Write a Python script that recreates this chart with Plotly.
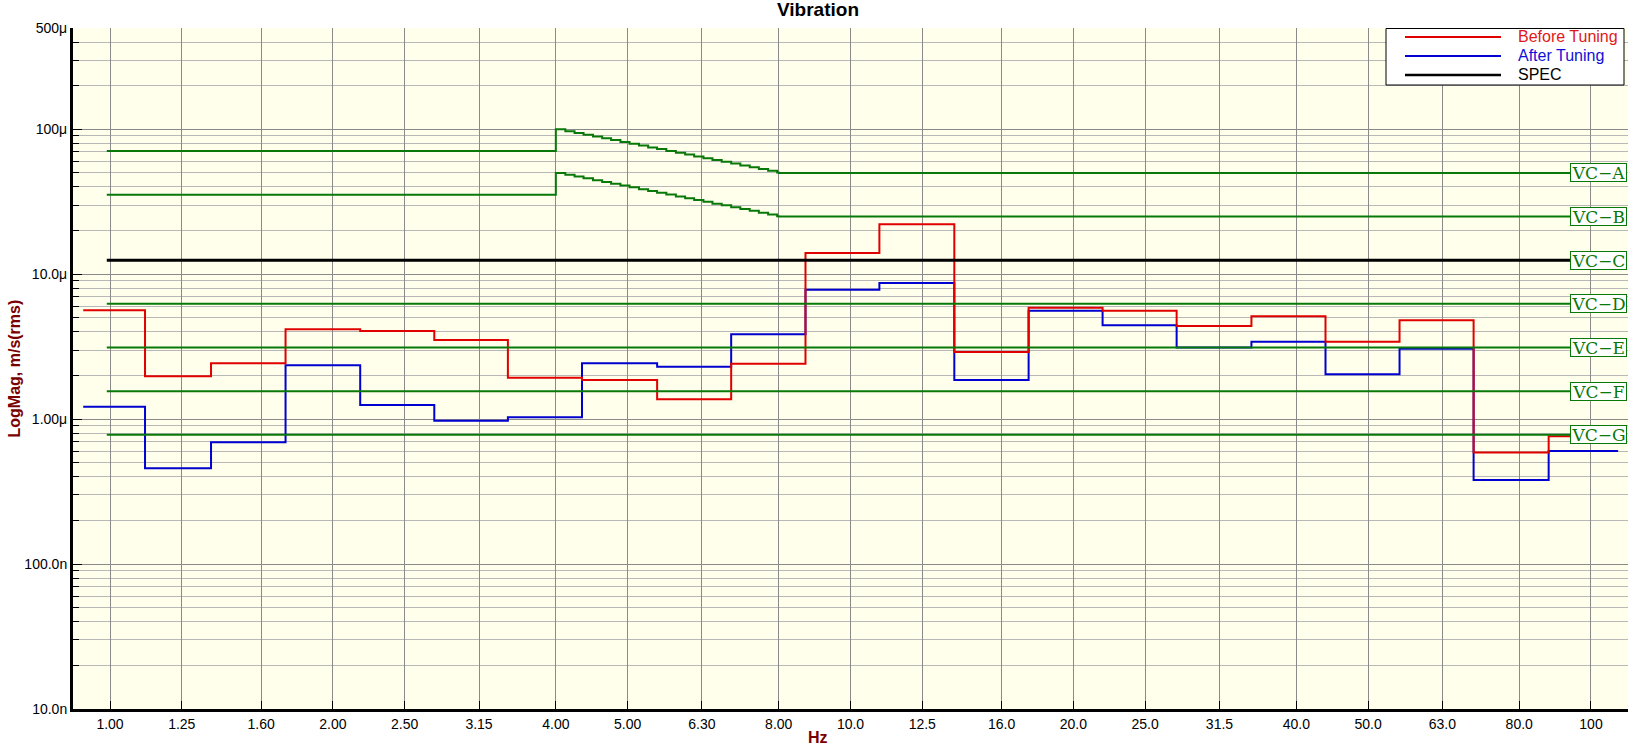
import math
import plotly.graph_objects as go

# ---------------- data ----------------
TICK_HZ = [1, 1.25, 1.6, 2, 2.5, 3.15, 4, 5, 6.3, 8, 10, 12.5, 16, 20, 25, 31.5, 40, 50, 63, 80, 100]
TICK_TEXT = ["1.00", "1.25", "1.60", "2.00", "2.50", "3.15", "4.00", "5.00", "6.30", "8.00",
             "10.0", "12.5", "16.0", "20.0", "25.0", "31.5", "40.0", "50.0", "63.0", "80.0", "100"]

Y_TICK_UM = [0.01, 0.1, 1, 10, 100, 500]
Y_TICK_TEXT = ["10.0n", "100.0n", "1.00\u03bc", "10.0\u03bc", "100\u03bc", "500\u03bc"]

# band edges (Hz) of the step traces
BAND_EDGES_HZ = [0.920, 1.115, 1.369, 1.726, 2.177, 2.741, 3.446, 4.339, 5.481, 6.900, 8.694,
                 10.94, 13.81, 17.40, 21.90, 27.57, 34.79, 43.80, 55.14, 69.42, 87.67, 108.8]
# velocity per band, micro m/s (rms)
BEFORE_UM = [5.65, 1.98, 2.43, 4.18, 4.06, 3.52, 1.93, 1.86, 1.37, 2.41, 14.0,
             22.1, 2.91, 5.86, 5.59, 4.40, 5.13, 3.42, 4.82, 0.589, 0.763]
AFTER_UM = [1.22, 0.459, 0.694, 2.35, 1.25, 0.973, 1.03, 2.43, 2.30, 3.86, 7.80,
            8.71, 1.86, 5.59, 4.45, 3.12, 3.42, 2.04, 3.06, 0.381, 0.604]

# VC criterion curves
VC_START_HZ = 0.99
VC_END_HZ = 106.0
VC_STAIR_HZ = [4.00, 4.12, 4.24, 4.36, 4.49, 4.62, 4.75, 4.89, 5.03, 5.18, 5.33, 5.48, 5.64,
               5.81, 5.98, 6.15, 6.33, 6.51, 6.70, 6.90, 7.10, 7.31, 7.52, 7.74, 7.96]
VC_A_STAIR_UM = [100.0, 97.1, 94.3, 91.7, 89.1, 86.6, 84.2, 81.8, 79.5, 77.2, 75.0, 73.0, 70.9,
                 68.8, 66.9, 65.0, 63.2, 61.4, 59.7, 58.0, 56.3, 54.7, 53.2, 51.7, 50.3]
VC_B_STAIR_UM = [50.0, 48.5, 47.2, 45.9, 44.5, 43.3, 42.1, 40.9, 39.8, 38.6, 37.5, 36.5, 35.5,
                 34.4, 33.4, 32.5, 31.6, 30.7, 29.9, 29.0, 28.2, 27.4, 26.6, 25.8, 25.1]
VC_A_LOW_UM, VC_A_HIGH_UM = 70.7, 50.0
VC_B_LOW_UM, VC_B_HIGH_UM = 35.4, 25.0
VC_FLAT_NAMES = ["VC\u2212D", "VC\u2212E", "VC\u2212F", "VC\u2212G"]
VC_FLAT_UM = [6.25, 3.12, 1.56, 0.78]
SPEC_NAME = "VC\u2212C"
SPEC_UM = 12.5

RED = "#E00000"
BLUE = "#0000D0"
GREEN = "#087808"
BLACK = "#000000"
DARKRED = "#7A0000"
FONT = "Liberation Sans"

fig = go.Figure()

def step(edges, vals):
    return list(edges), list(vals) + [vals[-1]]

# data traces (blue under red)
x, y = step(BAND_EDGES_HZ, AFTER_UM)
fig.add_trace(go.Scatter(x=x, y=y, mode="lines", line=dict(color=BLUE, width=2, shape="hv"),
                         name="After Tuning", showlegend=False))
x, y = step(BAND_EDGES_HZ, BEFORE_UM)
fig.add_trace(go.Scatter(x=x, y=y, mode="lines", line=dict(color=RED, width=2, shape="hv"),
                         name="Before Tuning", showlegend=False))

# VC-A and VC-B
for low, stair, high in [(VC_A_LOW_UM, VC_A_STAIR_UM, VC_A_HIGH_UM),
                         (VC_B_LOW_UM, VC_B_STAIR_UM, VC_B_HIGH_UM)]:
    xs = [VC_START_HZ] + VC_STAIR_HZ + [8.0, VC_END_HZ]
    ys = [low] + stair + [high, high]
    fig.add_trace(go.Scatter(x=xs, y=ys, mode="lines", line=dict(color=GREEN, width=2, shape="hv"),
                             showlegend=False))
for v in VC_FLAT_UM:
    fig.add_trace(go.Scatter(x=[VC_START_HZ, VC_END_HZ], y=[v, v], mode="lines",
                             line=dict(color=GREEN, width=2), showlegend=False))
fig.add_trace(go.Scatter(x=[VC_START_HZ, VC_END_HZ], y=[SPEC_UM, SPEC_UM], mode="lines",
                         line=dict(color=BLACK, width=3), name="SPEC", showlegend=False))

# custom legend / label geometry helpers (pixel -> paper)
PL, PR, PT, PB = 73, 1628, 28, 709
def px(xp):
    return (xp - PL) / (PR - PL)
def py(yp):
    return (PB - yp) / (PB - PT)

# VC labels
label_names = ["VC\u2212A", "VC\u2212B", SPEC_NAME] + VC_FLAT_NAMES
label_vals = [VC_A_HIGH_UM, VC_B_HIGH_UM, SPEC_UM] + VC_FLAT_UM
for nm, v in zip(label_names, label_vals):
    fig.add_annotation(x=px(1598.5), xref="paper", y=math.log10(v), yref="y", text=nm,
                       showarrow=False, font=dict(family="DejaVu Serif", size=17, color=GREEN),
                       bgcolor="white", bordercolor=GREEN, borderwidth=1, borderpad=0,
                       width=55, height=17, xanchor="center", yanchor="middle")

fig.add_shape(type="rect", xref="paper", yref="paper", x0=px(1386), x1=px(1624), y0=py(85), y1=py(28.5),
              line=dict(color="black", width=1), fillcolor="white", layer="above")
legend_items = [("Before Tuning", RED, "#E01818", 2), ("After Tuning", BLUE, "#1010D8", 2),
                ("SPEC", BLACK, "#000000", 2.5)]
for i, (nm, col, tcol, w) in enumerate(legend_items):
    yy = 37 + 19 * i
    fig.add_shape(type="line", xref="paper", yref="paper", x0=px(1405), x1=px(1501),
                  y0=py(yy), y1=py(yy), line=dict(color=col, width=w), layer="above")
    fig.add_annotation(x=px(1516), y=py(yy), xref="paper", yref="paper", text=nm, showarrow=False,
                       xanchor="left", yanchor="middle", font=dict(family=FONT, size=16, color=tcol))

# axis titles
fig.add_annotation(x=px(14), y=0.5, xref="paper", yref="paper", text="<b>LogMag, m/s(rms)</b>",
                   textangle=-90, showarrow=False, xanchor="center", yanchor="middle",
                   font=dict(family=FONT, size=16, color=DARKRED))
fig.add_annotation(x=px(818), y=py(737), xref="paper", yref="paper", text="<b>Hz</b>",
                   showarrow=False, xanchor="center", yanchor="middle",
                   font=dict(family=FONT, size=16, color=DARKRED))

minor_y = [m * 10 ** e for e in range(-2, 3) for m in range(2, 10) if m * 10 ** e < 500]

fig.update_layout(
    width=1636, height=750,
    margin=dict(l=PL, r=1636 - PR, t=PT, b=750 - PB, autoexpand=False),
    paper_bgcolor="white", plot_bgcolor="#FFFFEB",
    title=dict(text="<b>Vibration</b>", x=0.5, xref="container", xanchor="center",
               y=1 - 9.5 / 750, yref="container", yanchor="middle",
               font=dict(family=FONT, size=19, color="black")),
    font=dict(family=FONT, color="black"),
    showlegend=False,
    xaxis=dict(type="log", range=[-0.05, 2.05], tickvals=TICK_HZ, ticktext=TICK_TEXT,
               showgrid=True, gridcolor="#8a8a8a", gridwidth=1, zeroline=False,
               ticks="inside", ticklen=8, tickcolor="black", tickwidth=1,
               showline=True, linewidth=3, linecolor="black", mirror=False,
               tickfont=dict(family=FONT, size=14, color="black")),
    yaxis=dict(type="log", range=[-2, math.log10(500)], tickvals=Y_TICK_UM, ticktext=Y_TICK_TEXT,
               showgrid=True, gridcolor="#8a8a8a", gridwidth=1, zeroline=False,
               ticks="inside", ticklen=9, tickcolor="black", tickwidth=1,
               showline=True, linewidth=3, linecolor="black", mirror=False,
               tickfont=dict(family=FONT, size=14, color="black"),
               minor=dict(tickmode="array", tickvals=minor_y, showgrid=True, gridcolor="#b8b8b8",
                          gridwidth=1, ticks="inside", ticklen=6, tickcolor="black")),
)

fig.write_html("out.html", config={"displayModeBar": False},
               post_script="document.body.style.margin='0';document.body.style.overflow='hidden';")
